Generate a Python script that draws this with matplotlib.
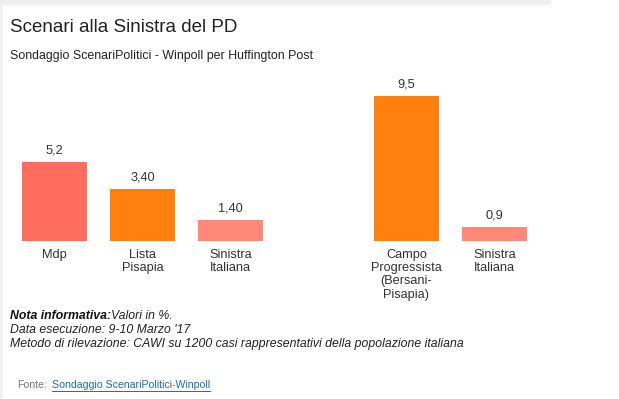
import matplotlib.pyplot as plt
from matplotlib.patches import Rectangle

plt.rcParams['font.family'] = ['Liberation Sans', 'DejaVu Sans']

# data
categories = ["Mdp", "Lista\nPisapia", "Sinistra\nItaliana",
              "Campo\nProgressista\n(Bersani-\nPisapia)", "Sinistra\nItaliana"]
positions = [0, 1, 2, 4, 5]
values = [5.2, 3.40, 1.40, 9.5, 0.9]
value_labels = ["5,2", "3,40", "1,40", "9,5", "0,9"]
colors = ["#ff6e5c", "#ff7f0f", "#ff8878", "#ff7f0f", "#ff8878"]

W, H = 619, 399
fig = plt.figure(figsize=(W / 100, H / 100), dpi=100)

# light grey frame at top / left like the web widget
fig.patches.append(Rectangle((0, 1 - 4 / H), 550 / W, 4 / H, transform=fig.transFigure,
                             color="#efefef", zorder=0))
fig.patches.append(Rectangle((0, 0), 2 / W, 1 - 4 / H, transform=fig.transFigure,
                             color="#f2f2f2", zorder=0))

# axes placed in pixels: baseline at y=241, 88 px per slot, first bar centre at 54.5 px
base = 241
slot = 88.0
x0 = 54.5
ppu = 15.26
ax = fig.add_axes([0, 1 - base / H, 1, base / H])
ax.set_xlim(-x0 / slot, (W - x0) / slot)
ax.set_ylim(0, base / ppu)
ax.axis("off")

ax.bar(positions, values, width=65 / slot, color=colors)
for p, v, lab in zip(positions, values, value_labels):
    ax.annotate(lab, (p, v), xytext=(0, 4), textcoords="offset points",
                ha="center", va="bottom", fontsize=9.2, color="#333333")
for p, c in zip(positions, categories):
    ax.annotate(c, (p, 0), xytext=(0, -6), textcoords="offset points",
                ha="center", va="top", fontsize=9.2, color="#333333", linespacing=1.12)

fig.text(10 / W, 1 - 27 / H, "Scenari alla Sinistra del PD", fontsize=13.5,
         color="#222222", va="center")
fig.text(10 / W, 1 - 56 / H, "Sondaggio ScenariPolitici - Winpoll per Huffington Post",
         fontsize=8.9, color="#222222", va="center")

# notes
nota = fig.text(10 / W, 1 - 316 / H, "Nota informativa:", fontsize=8.8, style="italic",
                weight="bold", va="center", color="#111111")
plt.annotate("Valori in %.", xy=(1, 0.5), xycoords=nota, va="center", ha="left",
             fontsize=8.8, style="italic", color="#222222")
fig.text(10 / W, 1 - 330 / H, "Data esecuzione: 9-10 Marzo '17", fontsize=8.8,
         style="italic", va="center", color="#222222")
fig.text(10 / W, 1 - 344 / H,
         "Metodo di rilevazione: CAWI su 1200 casi rappresentativi della popolazione italiana",
         fontsize=8.8, style="italic", va="center", color="#222222")

fig.text(17 / W, 1 - 385 / H, "Fonte:", fontsize=7.6, color="#777777", va="center")
fig.text(52 / W, 1 - 385 / H, "Sondaggio ScenariPolitici-Winpoll", fontsize=7.6,
         color="#1a6fb0", va="center")
fig.add_artist(plt.Line2D([52 / W, 210 / W], [1 - 391 / H, 1 - 391 / H],
                          transform=fig.transFigure, color="#1a6fb0", lw=0.7))

fig.savefig("out.png", dpi=100)
